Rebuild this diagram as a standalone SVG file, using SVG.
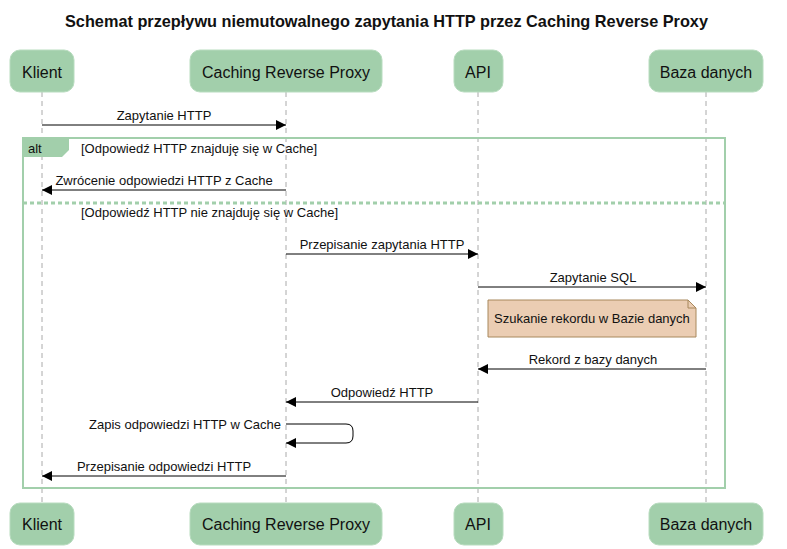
<svg xmlns="http://www.w3.org/2000/svg" width="787" height="549" viewBox="0 0 787 549">
<style>
text{font-family:"Liberation Sans",Arial,sans-serif;fill:#111}
.title{font-size:16.3px;font-weight:bold}
.pt{font-size:16px}
.msg{font-size:13px}
.box{fill:#a2cfab;stroke:#b8dcbf;stroke-width:1}
.life{stroke:#aaaaaa;stroke-width:1;stroke-dasharray:5,4;fill:none}
.line{stroke:#000;stroke-width:1;fill:none}
.frame{fill:none;stroke:#a2cfab;stroke-width:2}
</style>
<defs>
<marker id="ah" markerWidth="10" markerHeight="10" refX="10" refY="5" orient="auto" markerUnits="userSpaceOnUse">
<path d="M0,0 L10,5 L0,10 Z" fill="#000"/>
</marker>
</defs>
<rect width="787" height="549" fill="#fff"/>
<text class="title" x="386.5" y="27" text-anchor="middle">Schemat przepływu niemutowalnego zapytania HTTP przez Caching Reverse Proxy</text>

<g id="lifelines">
<line class="life" x1="42" y1="92" x2="42" y2="503"/>
<line class="life" x1="286" y1="92" x2="286" y2="503"/>
<line class="life" x1="478" y1="92" x2="478" y2="503"/>
<line class="life" x1="706" y1="92" x2="706" y2="503"/>
</g>

<g id="alt-frame">
<rect class="frame" x="23" y="138" width="702" height="350"/>
<path d="M22,138 L69,138 L69,150 L62,157 L22,157 Z" fill="#a2cfab"/>
<text class="msg" x="28" y="153">alt</text>
<text class="msg" x="81" y="153">[Odpowiedź HTTP znajduję się w Cache]</text>
<line x1="23" y1="203" x2="725" y2="203" stroke="#a2cfab" stroke-width="3" stroke-dasharray="4,3"/>
<text class="msg" x="81" y="217">[Odpowiedź HTTP nie znajduję się w Cache]</text>
</g>

<g id="node-klient">
<rect class="box" x="10" y="50" width="64" height="42" rx="10"/>
<text class="pt" x="42" y="78" text-anchor="middle">Klient</text>
<rect class="box" x="10" y="503" width="64" height="42" rx="10"/>
<text class="pt" x="42" y="530" text-anchor="middle">Klient</text>
</g>
<g id="node-proxy">
<rect class="box" x="190" y="50" width="192" height="42" rx="10"/>
<text class="pt" x="286" y="78" text-anchor="middle">Caching Reverse Proxy</text>
<rect class="box" x="190" y="503" width="192" height="42" rx="10"/>
<text class="pt" x="286" y="530" text-anchor="middle">Caching Reverse Proxy</text>
</g>
<g id="node-api">
<rect class="box" x="454" y="50" width="49" height="42" rx="10"/>
<text class="pt" x="478" y="78" text-anchor="middle">API</text>
<rect class="box" x="454" y="503" width="49" height="42" rx="10"/>
<text class="pt" x="478" y="530" text-anchor="middle">API</text>
</g>
<g id="node-db">
<rect class="box" x="649" y="50" width="114" height="42" rx="10"/>
<text class="pt" x="706" y="78" text-anchor="middle">Baza danych</text>
<rect class="box" x="649" y="503" width="114" height="42" rx="10"/>
<text class="pt" x="706" y="530" text-anchor="middle">Baza danych</text>
</g>

<g id="note">
<path d="M488,300 L688,300 L696,308 L696,337 L488,337 Z" fill="#ebcdb3" stroke="#a8885c" stroke-width="1"/>
<path d="M688,300 L688,308 L696,308" fill="none" stroke="#a8885c" stroke-width="1"/>
<text class="msg" x="494" y="323">Szukanie rekordu w Bazie danych</text>
</g>

<g id="connectors">
<line class="line" x1="42" y1="125" x2="286" y2="125" marker-end="url(#ah)"/>
<text class="msg" x="164" y="120" text-anchor="middle">Zapytanie HTTP</text>

<line class="line" x1="286" y1="190" x2="42" y2="190" marker-end="url(#ah)"/>
<text class="msg" x="164" y="185" text-anchor="middle">Zwrócenie odpowiedzi HTTP z Cache</text>

<line class="line" x1="286" y1="254" x2="478" y2="254" marker-end="url(#ah)"/>
<text class="msg" x="382" y="249" text-anchor="middle">Przepisanie zapytania HTTP</text>

<line class="line" x1="478" y1="287" x2="706" y2="287" marker-end="url(#ah)"/>
<text class="msg" x="593" y="282" text-anchor="middle">Zapytanie SQL</text>

<line class="line" x1="706" y1="369" x2="478" y2="369" marker-end="url(#ah)"/>
<text class="msg" x="593" y="364" text-anchor="middle">Rekord z bazy danych</text>

<line class="line" x1="478" y1="402" x2="286" y2="402" marker-end="url(#ah)"/>
<text class="msg" x="382" y="397" text-anchor="middle">Odpowiedź HTTP</text>

<path class="line" d="M286,424 L346,424 Q353,424 353,431 L353,436 Q353,443 346,443 L286,443" marker-end="url(#ah)"/>
<text class="msg" x="281" y="429" text-anchor="end">Zapis odpowiedzi HTTP w Cache</text>

<line class="line" x1="286" y1="476" x2="42" y2="476" marker-end="url(#ah)"/>
<text class="msg" x="164" y="471" text-anchor="middle">Przepisanie odpowiedzi HTTP</text>
</g>
</svg>
